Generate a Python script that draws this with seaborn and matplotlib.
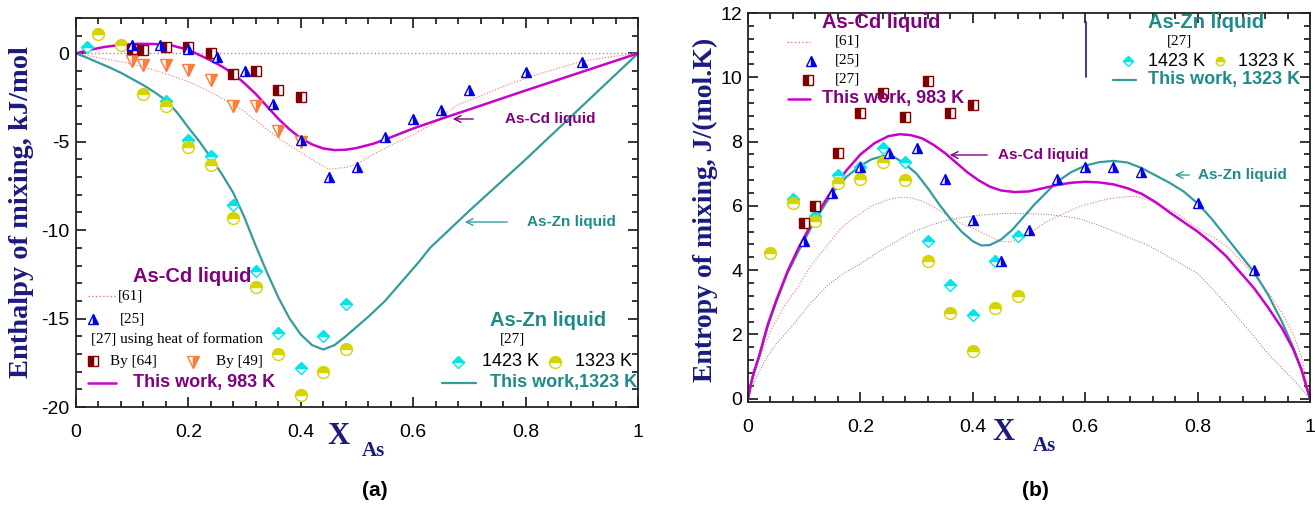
import matplotlib
matplotlib.use("Agg")
import matplotlib.pyplot as plt
import seaborn as sns
from matplotlib.ticker import MultipleLocator, FixedLocator
from matplotlib.lines import Line2D

# ---------------- dados (a) entalpia de mistura ----------------
x_zn_1423 = [0.02, 0.04, 0.08, 0.16, 0.20, 0.24, 0.28, 0.32, 0.36, 0.40, 0.44, 0.48]
h_zn_1423 = [0.35, 1.1, 0.5, -2.7, -4.9, -5.8, -8.6, -12.3, -15.8, -17.8, -16.0, -14.2]

x_zn_1323 = [0.04, 0.08, 0.12, 0.16, 0.20, 0.24, 0.28, 0.32, 0.36, 0.40, 0.44, 0.48]
h_zn_1323 = [1.07, 0.45, -2.3, -3.0, -5.3, -6.3, -9.3, -13.2, -17.0, -19.3, -18.0, -16.7]

x_cd_25 = [0.10, 0.15, 0.20, 0.25, 0.30, 0.35, 0.40, 0.45, 0.50, 0.55, 0.60, 0.65, 0.70, 0.80, 0.90]
h_cd_25 = [0.5, 0.5, 0.27, -0.2, -1.0, -2.85, -4.9, -7.0, -6.4, -4.75, -3.7, -3.2, -2.1, -1.07, -0.5]

x_cd_64 = [0.10, 0.12, 0.16, 0.20, 0.24, 0.28, 0.32, 0.36, 0.40]
h_cd_64 = [0.22, 0.17, 0.35, 0.35, 0.0, -1.15, -1.0, -2.1, -2.45]

x_cd_49 = [0.10, 0.12, 0.16, 0.20, 0.24, 0.28, 0.32, 0.36, 0.40]
h_cd_49 = [-0.43, -0.63, -0.68, -0.93, -1.53, -2.97, -3.0, -4.4, -5.0]

x_cd_calc_h = [0, 0.02, 0.05, 0.08, 0.11, 0.14, 0.17, 0.20, 0.22, 0.24, 0.26, 0.28, 0.30,
               0.32, 0.34, 0.36, 0.38, 0.40, 0.42, 0.44, 0.46, 0.48, 0.50, 0.53, 0.56,
               0.60, 0.65, 0.70, 0.80, 0.90, 1.0]
h_cd_calc = [0, 0.17, 0.36, 0.48, 0.54, 0.53, 0.45, 0.2, -0.1, -0.4, -0.75, -1.15, -1.7,
             -2.3, -3.0, -3.7, -4.3, -4.8, -5.15, -5.38, -5.47, -5.45, -5.35, -5.1, -4.75,
             -4.25, -3.7, -3.17, -2.1, -1.05, 0]

x_cd_61_h = [0, 0.05, 0.10, 0.15, 0.20, 0.24, 0.28, 0.30, 0.32, 0.34, 0.36, 0.38, 0.40,
             0.43, 0.45, 0.48, 0.50, 0.53, 0.56, 0.60, 0.635, 0.66, 0.68, 0.72, 0.77,
             0.83, 0.90, 0.95, 1.0]
h_cd_61 = [0, -0.3, -0.6, -1.05, -1.6, -2.2, -2.9, -3.3, -3.8, -4.3, -4.8, -5.2, -5.6,
           -6.2, -6.55, -6.45, -6.25, -5.7, -5.2, -4.6, -4.0, -3.35, -2.9, -2.4, -1.75,
           -1.1, -0.45, -0.2, 0]

x_zn_calc_h = [0, 0.02, 0.04, 0.06, 0.08, 0.10, 0.12, 0.14, 0.16, 0.18, 0.20, 0.22, 0.24,
               0.26, 0.28, 0.30, 0.32, 0.34, 0.36, 0.38, 0.40, 0.42, 0.44, 0.46, 0.48,
               0.50, 0.52, 0.55, 0.58, 0.61, 0.63, 0.66, 0.70, 0.75, 0.80, 0.85, 0.90,
               0.95, 1.0]
h_zn_calc = [0, -0.25, -0.53, -0.8, -1.1, -1.45, -1.8, -2.2, -2.65, -3.35, -4.2, -5.0, -5.9,
             -6.85, -7.9, -9.3, -10.9, -12.4, -13.8, -15.0, -15.9, -16.5, -16.75, -16.5, -16.0,
             -15.45, -14.9, -14.0, -12.9, -11.8, -11.0, -10.1, -8.9, -7.45, -6.0, -4.5, -3.0,
             -1.5, 0]

# ---------------- dados (b) entropia de mistura ----------------
xs_zn_1423 = [0.04, 0.08, 0.12, 0.16, 0.20, 0.24, 0.28, 0.32, 0.36, 0.40, 0.44, 0.48]
s_zn_1423 = [4.55, 6.2, 5.68, 6.95, 7.2, 7.8, 7.35, 4.92, 3.55, 2.6, 4.29, 5.06]

xs_zn_1323 = [0.04, 0.08, 0.12, 0.16, 0.20, 0.24, 0.28, 0.32, 0.36, 0.40, 0.44, 0.48]
s_zn_1323 = [4.53, 6.1, 5.53, 6.72, 6.85, 7.37, 6.8, 4.28, 2.66, 1.5, 2.82, 3.2]

xs_cd_25 = [0.10, 0.15, 0.20, 0.25, 0.30, 0.35, 0.40, 0.45, 0.50, 0.55, 0.60, 0.65, 0.70, 0.80, 0.90]
s_cd_25 = [4.9, 6.4, 7.2, 7.65, 7.8, 6.85, 5.56, 4.29, 5.25, 6.85, 7.2, 7.2, 7.05, 6.08, 4.0]

xs_cd_27 = [0.10, 0.12, 0.16, 0.20, 0.24, 0.28, 0.32, 0.36, 0.40]
s_cd_27 = [5.46, 6.0, 7.65, 8.88, 9.5, 8.75, 9.9, 8.9, 9.14]

xs_cd_calc = [0, 0.005, 0.01, 0.02, 0.035, 0.05, 0.07, 0.09, 0.11, 0.13, 0.15, 0.175,
              0.20, 0.225, 0.25, 0.27, 0.29, 0.31, 0.33, 0.35, 0.37, 0.39, 0.41, 0.43,
              0.45, 0.475, 0.50, 0.525, 0.55, 0.575, 0.60, 0.625, 0.65, 0.675, 0.70,
              0.725, 0.75, 0.775, 0.80, 0.825, 0.85, 0.875, 0.90, 0.925, 0.95, 0.97,
              0.985, 1.0]
s_cd_calc = [0, 0.45, 0.8, 1.35, 2.3, 3.05, 3.95, 4.7, 5.35, 5.95, 6.5, 7.1,
             7.6, 7.95, 8.17, 8.23, 8.2, 8.1, 7.9, 7.65, 7.35, 7.05, 6.8, 6.6,
             6.48, 6.43, 6.45, 6.55, 6.65, 6.72, 6.75, 6.73, 6.67, 6.55, 6.38,
             6.12, 5.8, 5.5, 5.2, 4.85, 4.45, 3.95, 3.45, 2.85, 2.2, 1.55,
             0.9, 0]

xs_zn_calc = [0, 0.005, 0.01, 0.02, 0.035, 0.05, 0.07, 0.09, 0.11, 0.13, 0.15, 0.175,
              0.20, 0.22, 0.24, 0.26, 0.28, 0.30, 0.32, 0.34, 0.36, 0.38, 0.40, 0.415,
              0.43, 0.45, 0.47, 0.49, 0.51, 0.53, 0.55, 0.575, 0.60, 0.625, 0.65, 0.675,
              0.70, 0.725, 0.75, 0.775, 0.80, 0.825, 0.85, 0.875, 0.90, 0.925, 0.95,
              0.97, 0.985, 1.0]
s_zn_calc = [0, 0.45, 0.8, 1.3, 2.25, 3.0, 3.9, 4.6, 5.25, 5.85, 6.4, 6.9,
             7.25, 7.45, 7.55, 7.52, 7.3, 7.0, 6.55, 6.05, 5.6, 5.2, 4.9, 4.77,
             4.78, 4.95, 5.25, 5.65, 6.05, 6.4, 6.75, 7.05, 7.25, 7.36, 7.4, 7.35,
             7.18, 6.95, 6.72, 6.45, 6.08, 5.6, 5.05, 4.5, 3.95, 3.25, 2.4,
             1.6, 0.9, 0]

xs_cd_61 = [0, 0.005, 0.01, 0.02, 0.04, 0.065, 0.09, 0.11, 0.14, 0.165, 0.19, 0.22,
            0.25, 0.27, 0.29, 0.31, 0.33, 0.355, 0.38, 0.40, 0.425, 0.448, 0.465, 0.484,
            0.51, 0.53, 0.56, 0.59, 0.62, 0.645, 0.67, 0.69, 0.71, 0.735, 0.76, 0.80,
            0.83, 0.855, 0.88, 0.91, 0.93, 0.952, 0.97, 0.985, 1.0]
s_cd_61 = [0, 0.3, 0.6, 1.25, 2.1, 2.9, 3.5, 4.1, 4.75, 5.3, 5.65, 6.0,
           6.2, 6.27, 6.25, 6.15, 5.97, 5.7, 5.45, 5.3, 5.1, 4.9, 4.88, 4.95,
           5.25, 5.5, 5.75, 5.98, 6.13, 6.23, 6.28, 6.3, 6.2, 6.0, 5.8, 5.3,
           5.0, 4.7, 4.25, 3.67, 3.2, 2.62, 2.0, 1.3, 0]

xs_ideal = [0, 0.003, 0.01, 0.02, 0.034, 0.05, 0.08, 0.11, 0.14, 0.17, 0.20, 0.235,
            0.265, 0.294, 0.325, 0.354, 0.385, 0.413, 0.44, 0.47, 0.50, 0.53, 0.56,
            0.59, 0.62, 0.65, 0.68, 0.715, 0.75, 0.78, 0.80, 0.83, 0.863, 0.89, 0.923,
            0.95, 0.97, 0.985, 1.0]
s_ideal = [0, 0.15, 0.45, 0.85, 1.3, 1.7, 2.3, 2.95, 3.5, 3.9, 4.2, 4.6,
           4.9, 5.2, 5.4, 5.55, 5.65, 5.71, 5.75, 5.77, 5.76, 5.74, 5.68,
           5.6, 5.42, 5.22, 5.0, 4.75, 4.4, 4.1, 3.9, 3.35, 2.7, 2.15, 1.45,
           0.95, 0.6, 0.3, 0]

x_ticks = [0, 0.2, 0.4, 0.6, 0.8, 1.0]
x_tick_labels = ["0", "0.2", "0.4", "0.6", "0.8", "1"]
h_ticks = [0, -5, -10, -15, -20]
s_ticks = [0, 2, 4, 6, 8, 10, 12]

# cores
magenta = "#cc00cc"
roxo = "#800080"
verde = "#339c9c"
verde_txt = "#1f8a8a"
rosa = "#ff7070"
azul = "#0000ee"
vinho = "#800000"
laranja = "#ff7b3a"
ciano = "#00e6e6"
amarelo = "#d4d400"
marinho = "#1a1a80"

sns.set_theme(style="ticks")
plt.rcParams["font.family"] = ["Liberation Sans", "DejaVu Sans"]
plt.rcParams["axes.linewidth"] = 1.3
plt.rcParams["axes.unicode_minus"] = False

W, H = 1315, 508
fig = plt.figure(figsize=(W / 100, H / 100), dpi=100)
ax1 = fig.add_axes([76 / W, 1 - 407 / H, 562 / W, 389 / H])
ax2 = fig.add_axes([748 / W, 1 - 402 / H, 562 / W, 389 / H])


def pontos(ax, x, y, marker, cor, fill, ms):
    sns.lineplot(x=x, y=y, ax=ax, marker=marker, linestyle="none", color=cor,
                 markerfacecolor=cor, markerfacecoloralt="white", markeredgecolor=cor,
                 fillstyle=fill, markersize=ms, markeredgewidth=1.0,
                 estimator=None, errorbar=None, sort=False, legend=False)


def curva(ax, x, y, cor, lw, ls="-"):
    sns.lineplot(x=x, y=y, ax=ax, color=cor, linewidth=lw, linestyle=ls,
                 estimator=None, errorbar=None, sort=False, legend=False)


# ---------- painel (a) ----------
ax1.axhline(0, color="#999999", ls=":", lw=1.0)
curva(ax1, x_cd_61_h, h_cd_61, rosa, 0.8, ":")
curva(ax1, x_zn_calc_h, h_zn_calc, verde, 1.6)
curva(ax1, x_cd_calc_h, h_cd_calc, magenta, 1.8)
pontos(ax1, x_zn_1423, h_zn_1423, "D", ciano, "top", 6)
pontos(ax1, x_zn_1323, h_zn_1323, "o", amarelo, "top", 8.5)
pontos(ax1, x_cd_49, h_cd_49, "v", laranja, "right", 8)
pontos(ax1, x_cd_64, h_cd_64, "s", vinho, "left", 6.5)
pontos(ax1, x_cd_25, h_cd_25, "^", azul, "right", 7.5)

# ---------- painel (b) ----------
curva(ax2, xs_ideal, s_ideal, "#777777", 0.7, ":")
curva(ax2, xs_cd_61, s_cd_61, rosa, 0.8, ":")
curva(ax2, xs_zn_calc, s_zn_calc, verde, 1.6)
curva(ax2, xs_cd_calc, s_cd_calc, magenta, 1.8)
pontos(ax2, xs_zn_1423, s_zn_1423, "D", ciano, "top", 6)
pontos(ax2, xs_zn_1323, s_zn_1323, "o", amarelo, "top", 8.5)
pontos(ax2, xs_cd_27, s_cd_27, "s", vinho, "left", 6.5)
pontos(ax2, xs_cd_25, s_cd_25, "^", azul, "right", 7.5)

for ax in (ax1, ax2):
    ax.set_xlim(0, 1)
    ax.xaxis.set_major_locator(FixedLocator(x_ticks))
    ax.set_xticklabels(x_tick_labels)
    ax.xaxis.set_minor_locator(MultipleLocator(0.04))
    ax.tick_params(which="both", direction="in", top=True, right=True, width=1.1,
                   colors="black", labelsize=14)
    ax.tick_params(which="major", length=7)
    ax.tick_params(which="minor", length=4)
    ax.tick_params(axis="x", pad=12)
    ax.set_xlabel("")
    ax.set_ylabel("")
    for s in ax.spines.values():
        s.set_color("#222222")

ax1.set_ylim(-20, 2)
ax1.yaxis.set_major_locator(FixedLocator(h_ticks))
ax1.yaxis.set_minor_locator(MultipleLocator(1))
ax1.tick_params(axis="y", pad=5)

ax2.set_ylim(-0.1, 12)
ax2.yaxis.set_major_locator(FixedLocator(s_ticks))
ax2.yaxis.set_minor_locator(MultipleLocator(0.4))
ax2.tick_params(axis="y", pad=4)


# ---------- textos e legendas (posições em pixels da figura) ----------
def fx(px):
    return px / W


def fy(py):
    return 1 - py / H


def texto(px, py, s, cor="black", size=13, bold=False, serif=False, **kw):
    fam = ["Liberation Serif"] if serif else ["Liberation Sans", "DejaVu Sans"]
    fig.text(fx(px), fy(py), s, color=cor, fontsize=size, family=fam,
             fontweight="bold" if bold else "normal", va="center", ha=kw.pop("ha", "left"), **kw)


def chave_linha(x0, x1, py, cor, lw, ls="-"):
    fig.add_artist(Line2D([fx(x0), fx(x1)], [fy(py), fy(py)], color=cor, lw=lw, ls=ls))


def chave_marca(px, py, marker, cor, fill, ms):
    fig.add_artist(Line2D([fx(px)], [fy(py)], marker=marker, color=cor, markerfacecolor=cor,
                          markerfacecoloralt="white", markeredgecolor=cor, fillstyle=fill,
                          markersize=ms, markeredgewidth=1.0, ls="none"))


def seta(x0, x1, py, cor):
    fig.add_artist(matplotlib.patches.FancyArrowPatch((fx(x0), fy(py)), (fx(x1), fy(py)),
                   arrowstyle="->", mutation_scale=12, color=cor, lw=1.0,
                   transform=fig.transFigure))


# legenda (a) As-Cd
texto(133, 277, "As-Cd liquid", roxo, 14.5, bold=True)
chave_linha(88, 117, 296, rosa, 1.0, ":")
texto(118, 296, "[61]", size=11, serif=True)
chave_marca(93, 319, "^", azul, "right", 7.5)
texto(120, 319, "[25]", size=11, serif=True)
texto(91, 339, "[27] using heat of formation", size=11, serif=True)
chave_marca(93, 361, "s", vinho, "left", 6.5)
texto(110, 361, "By [64]", size=11, serif=True)
chave_marca(193, 362, "v", laranja, "right", 8)
texto(216, 361, "By [49]", size=11, serif=True)
chave_linha(88, 116, 383, magenta, 1.8)
texto(133, 383, "This work, 983 K", roxo, 13, bold=True)

# legenda (a) As-Zn
texto(490, 320, "As-Zn liquid", verde_txt, 14.5, bold=True)
texto(500, 339, "[27]", size=11, serif=True)
chave_marca(458, 362, "D", ciano, "top", 6)
texto(482, 362, "1423 K", size=13)
chave_marca(555, 362, "o", amarelo, "top", 8.5)
texto(575, 362, "1323 K", size=13)
chave_linha(442, 476, 383, verde, 1.6)
texto(490, 383, "This work,1323 K", verde_txt, 13, bold=True)

seta(476, 450, 119, roxo)
texto(505, 119, "As-Cd liquid", roxo, 11, bold=True)
seta(510, 462, 222, verde)
texto(527, 222, "As-Zn liquid", verde_txt, 11, bold=True)

# legenda (b) As-Cd
texto(822, 23, "As-Cd liquid", roxo, 14.5, bold=True)
chave_linha(787, 810, 42, rosa, 1.0, ":")
texto(835, 41, "[61]", size=11, serif=True)
chave_marca(811, 61, "^", azul, "right", 7.5)
texto(835, 60, "[25]", size=11, serif=True)
chave_marca(808, 80, "s", vinho, "left", 6.5)
texto(835, 79, "[27]", size=11, serif=True)
chave_linha(788, 810, 99, magenta, 1.8)
texto(822, 99, "This work, 983 K", roxo, 13, bold=True)

# legenda (b) As-Zn
texto(1148, 23, "As-Zn liquid", verde_txt, 14.5, bold=True)
texto(1167, 41, "[27]", size=11, serif=True)
chave_marca(1128, 61, "D", ciano, "top", 5)
texto(1148, 61, "1423 K", size=13)
chave_marca(1220, 61, "o", amarelo, "top", 6)
texto(1238, 61, "1323 K", size=13)
chave_linha(1113, 1136, 80, verde, 1.6)
texto(1148, 80, "This work, 1323 K", verde_txt, 13, bold=True)
fig.add_artist(Line2D([fx(1086), fx(1086)], [fy(22), fy(77)], color=marinho, lw=1.2))

seta(990, 947, 155, roxo)
texto(998, 155, "As-Cd liquid", roxo, 11, bold=True)
seta(1192, 1172, 175, verde)
texto(1198, 175, "As-Zn liquid", verde_txt, 11, bold=True)

# rótulos dos eixos
texto(22, 212, "Enthalpy of mixing, kJ/mol", marinho, 20.5, bold=True, serif=True,
      rotation=90, ha="center")
texto(705, 210, "Entropy of mixing, J/(mol.K)", marinho, 20, bold=True, serif=True,
      rotation=90, ha="center")
texto(338, 436, "X", marinho, 22, bold=True, serif=True, ha="center")
texto(373, 451, "As", marinho, 15, bold=True, serif=True, ha="center")
texto(1003, 433, "X", marinho, 22, bold=True, serif=True, ha="center")
texto(1044, 446, "As", marinho, 15, bold=True, serif=True, ha="center")
texto(375, 490, "(a)", size=15, bold=True, ha="center")
texto(1035, 490, "(b)", size=15, bold=True, ha="center")

fig.savefig("out.png", dpi=100)
